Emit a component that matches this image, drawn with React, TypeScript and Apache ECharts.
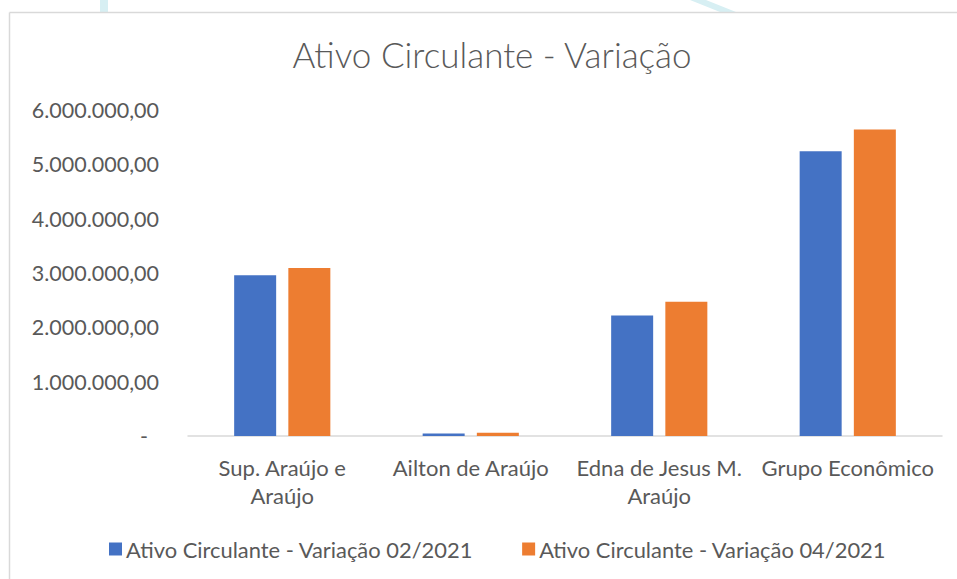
import React, { useEffect, useRef } from "react";
import * as echarts from "echarts";

const categories = [
  "Sup. Araújo e\nAraújo",
  "Ailton de Araújo",
  "Edna de Jesus M.\nAraújo",
  "Grupo Econômico",
];
const seriesNames = [
  "Ativo Circulante - Variação 02/2021",
  "Ativo Circulante - Variação 04/2021",
];
const values022021 = [2960000, 45000, 2220000, 5240000];
const values042021 = [3090000, 60000, 2470000, 5640000];
const yTicks = [0, 1000000, 2000000, 3000000, 4000000, 5000000, 6000000];
const titleText = "Ativo Circulante - Variação";

const FONT = "Lato, 'Open Sans', sans-serif";
const TEXT = "#595959";

function fmt(v: number): string {
  if (v === 0) return "{d|-}";
  return String(Math.round(v)).replace(/\B(?=(\d{3})+(?!\d))/g, ".") + ",00";
}

export default function App() {
  const ref = useRef<HTMLDivElement>(null);
  useEffect(() => {
    if (!ref.current) return;
    const chart = echarts.init(ref.current, null, { renderer: "svg" });
    chart.setOption({
      animation: false,
      backgroundColor: "#ffffff",
      textStyle: { fontFamily: FONT },
      title: {
        text: titleText,
        left: 487,
        textAlign: "center",
        top: 31,
        textStyle: { fontFamily: FONT, fontSize: 35, fontWeight: 300, color: TEXT },
      },
      graphic: [
        { type: "polygon", shape: { points: [[100, 0], [108, 0], [108, 12], [100, 12]] }, style: { fill: "#d7eff3" } },
        { type: "polygon", shape: { points: [[690, 0], [706, 0], [736, 12], [720, 12]] }, style: { fill: "#d7eff3" } },
        { type: "line", shape: { x1: 9.5, y1: 12.5, x2: 957, y2: 12.5 }, style: { stroke: "#d9d9d9", lineWidth: 1.5 } },
        { type: "line", shape: { x1: 9.5, y1: 12.5, x2: 9.5, y2: 579 }, style: { stroke: "#d9d9d9", lineWidth: 1.5 } },
      ],
      legend: {
        left: 104,
        top: 533,
        itemWidth: 13,
        itemHeight: 13,
        itemGap: 49,
        icon: "rect",
        textStyle: { fontFamily: FONT, fontSize: 21.9, color: TEXT, padding: [0, 0, 0, -1] },
        data: seriesNames,
      },
      grid: { left: 188, right: 15, top: 110, bottom: 143, containLabel: false },
      xAxis: {
        type: "category",
        data: categories,
        axisLine: { show: true, lineStyle: { color: "#d9d9d9", width: 1.5 } },
        axisTick: { show: false },
        axisLabel: {
          interval: 0,
          margin: 17,
          fontFamily: FONT,
          fontSize: 22,
          lineHeight: 28,
          color: TEXT,
        },
      },
      yAxis: {
        type: "value",
        min: yTicks[0],
        max: yTicks[yTicks.length - 1],
        interval: yTicks[1] - yTicks[0],
        splitLine: { show: false },
        axisLine: { show: false },
        axisTick: { show: false },
        axisLabel: {
          margin: 29,
          fontFamily: FONT,
          fontSize: 21.5,
          color: TEXT,
          formatter: (v: number) => fmt(v),
          rich: { d: { fontFamily: FONT, fontSize: 21.5, color: TEXT, padding: [0, 11, 0, 0] } },
        },
      },
      series: [
        {
          name: seriesNames[0],
          type: "bar",
          data: values022021,
          barWidth: 42,
          barGap: "29%",
          itemStyle: { color: "#4472C4" },
        },
        {
          name: seriesNames[1],
          type: "bar",
          data: values042021,
          barWidth: 42,
          itemStyle: { color: "#ED7D31" },
        },
      ],
    });
    return () => chart.dispose();
  }, []);
  return (
    <div
      ref={ref}
      style={{ position: "absolute", left: 0, top: 0, width: 957, height: 579 }}
    />
  );
}
